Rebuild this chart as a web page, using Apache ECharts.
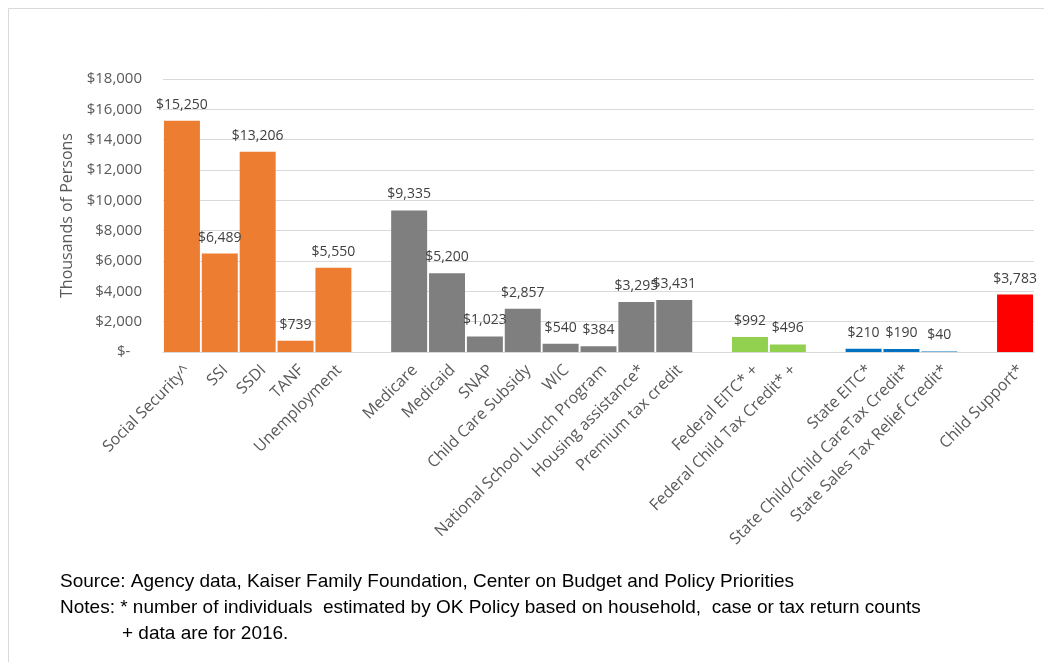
<!DOCTYPE html>
<html>
<head>
<meta charset="utf-8">
<script src="https://cdn.jsdelivr.net/npm/echarts@6/dist/echarts.min.js"></script>
<style>
  html, body { margin: 0; padding: 0; background: #ffffff; }
  #chart { width: 1044px; height: 662px; }
</style>
</head>
<body>
<div id="chart"></div>
<script>
// Program groups, in the order they appear along the axis
const cashPrograms = ['Social Security^', 'SSI', 'SSDI', 'TANF', 'Unemployment'];
const cashValues = [15250, 6489, 13206, 739, 5550];

const healthPrograms = ['Medicare', 'Medicaid', 'SNAP', 'Child Care Subsidy', 'WIC',
  'National School Lunch Program', 'Housing assistance*', 'Premium tax credit'];
const healthValues = [9335, 5200, 1023, 2857, 540, 384, 3295, 3431];

const federalCredits = ['Federal EITC* +', 'Federal Child Tax Credit* +'];
const federalValues = [992, 496];

const statePrograms = ['State EITC*', 'State Child/Child CareTax Credit*', 'State Sales Tax Relief Credit*'];
const stateValues = [210, 190, 40];

const supportPrograms = ['Child Support*'];
const supportValues = [3783];

const yTicks = [0, 2000, 4000, 6000, 8000, 10000, 12000, 14000, 16000, 18000];

const sourceNote = 'Source: Agency data, Kaiser Family Foundation, Center on Budget and Policy Priorities';
const notesLine1 = 'Notes: * number of individuals  estimated by OK Policy based on household,  case or tax return counts';
const notesLine2 = '+ data are for 2016.';

// Build the full axis with a blank slot between groups
const groups = [
  { names: cashPrograms, values: cashValues, color: '#ED7D31' },
  { names: healthPrograms, values: healthValues, color: '#7F7F7F' },
  { names: federalCredits, values: federalValues, color: '#92D050' },
  { names: statePrograms, values: stateValues, color: '#0070C0' },
  { names: supportPrograms, values: supportValues, color: '#FF0000' }
];

const categories = [];
const offsets = [];
groups.forEach((g, i) => {
  if (i > 0) categories.push('');
  offsets.push(categories.length);
  g.names.forEach(n => categories.push(n));
});

const fmtMoney = v => '$' + v.toLocaleString('en-US');

const series = groups.map((g, i) => {
  const data = categories.map(() => null);
  g.values.forEach((v, j) => { data[offsets[i] + j] = v; });
  return {
    type: 'bar',
    data: data,
    barGap: '-100%',
    barCategoryGap: '5%',
    itemStyle: { color: g.color },
    label: {
      show: true,
      position: 'top',
      distance: 9,
      formatter: p => fmtMoney(p.value),
      fontFamily: 'Open Sans',
      fontSize: 14,
      color: '#404040'
    },
    silent: true
  };
});

const noteFont = { fontFamily: '"Liberation Sans", sans-serif', fontSize: 19, fill: '#000000' };

const chart = echarts.init(document.getElementById('chart'), null, { renderer: 'canvas' });
chart.setOption({
  animation: false,
  backgroundColor: '#ffffff',
  grid: { left: 163, right: 10, top: 79, bottom: 310, containLabel: false },
  xAxis: {
    type: 'category',
    data: categories,
    axisTick: { show: false },
    axisLine: { lineStyle: { color: '#D9D9D9', width: 1 } },
    axisLabel: {
      interval: 0,
      rotate: 45,
      margin: 10,
      verticalAlign: 'top',
      fontFamily: 'Open Sans',
      fontSize: 16,
      color: '#595959'
    }
  },
  yAxis: {
    type: 'value',
    min: yTicks[0],
    max: yTicks[yTicks.length - 1],
    interval: yTicks[1] - yTicks[0],
    name: 'Thousands of Persons',
    nameLocation: 'middle',
    nameGap: 86,
    nameRotate: 90,
    nameTextStyle: { fontFamily: 'Open Sans', fontSize: 16, color: '#595959' },
    axisLine: { show: false },
    axisTick: { show: false },
    splitLine: { lineStyle: { color: '#D9D9D9', width: 1 } },
    axisLabel: {
      margin: 21,
      fontFamily: 'Open Sans',
      fontSize: 15,
      color: '#595959',
      formatter: v => v === 0 ? '$-   ' : fmtMoney(v)
    }
  },
  series: series,
  graphic: [
    {
      type: 'rect',
      shape: { x: 8.5, y: 8.5, width: 1200, height: 800 },
      style: { fill: 'none', stroke: '#D9D9D9', lineWidth: 1 },
      silent: true
    },
    {
      type: 'text', left: 60, top: 572,
      style: Object.assign({ text: sourceNote }, noteFont)
    },
    {
      type: 'text', left: 60, top: 598,
      style: Object.assign({ text: notesLine1 }, noteFont)
    },
    {
      type: 'text', left: 122, top: 624,
      style: Object.assign({ text: notesLine2 }, noteFont)
    }
  ]
});
</script>
</body>
</html>
